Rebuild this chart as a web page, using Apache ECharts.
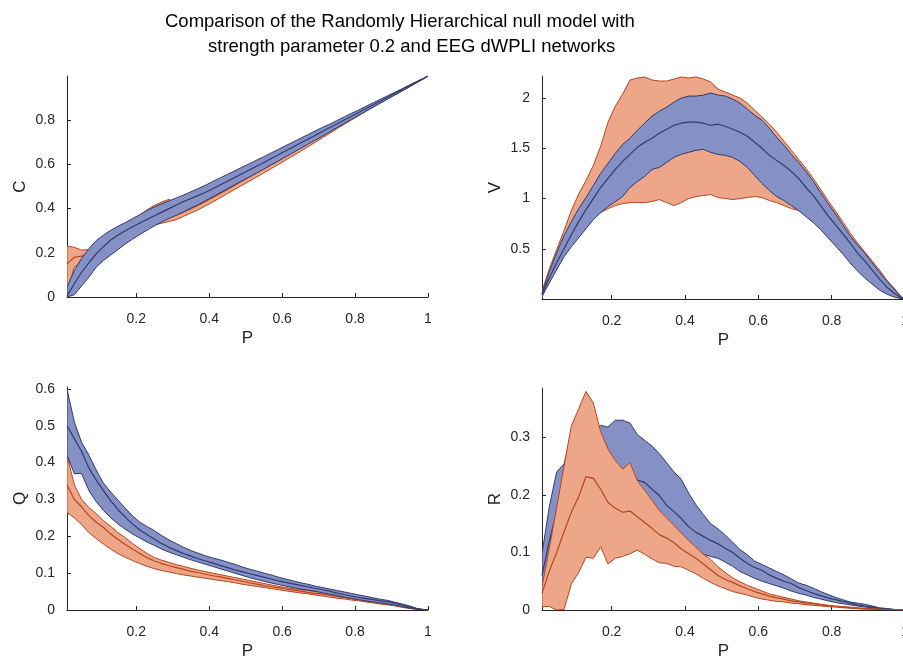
<!DOCTYPE html>
<html>
<head>
<meta charset="utf-8">
<script src="https://cdn.jsdelivr.net/npm/echarts@6/dist/echarts.min.js"></script>
<style>
  html, body { margin: 0; padding: 0; background: #fff; }
  #main { width: 903px; height: 656px; }
</style>
</head>
<body>
<div id="main"></div>
<script>
// density grid (P)
var xs = [0.01,0.03,0.05,0.07,0.09,0.11,0.13,0.15,0.17,0.19,0.21,0.23,0.25,0.27,0.29,0.31,0.33,0.35,0.37,0.39,
  0.41,0.43,0.45,0.47,0.49,0.51,0.53,0.55,0.57,0.59,0.61,0.63,0.65,0.67,0.69,0.71,0.73,0.75,0.77,0.79,
  0.81,0.83,0.85,0.87,0.89,0.91,0.93,0.95,0.97,0.99,1.0];

// C - clustering
var cNullHi = [.045,.12,.175,.218,.255,.28,.302,.32,.337,.355,.373,.392,.408,.422,.435,.448,.462,.476,.491,.506,
  .523,.539,.555,.571,.587,.603,.619,.635,.652,.668,.685,.701,.718,.734,.751,.767,.782,.798,.815,.831,
  .846,.863,.879,.895,.911,.927,.943,.96,.976,.991,1];
var cNullMid = [.005,.06,.112,.155,.195,.228,.258,.28,.3,.318,.335,.352,.368,.384,.4,.416,.432,.446,.46,.474,
  .49,.507,.524,.541,.558,.575,.592,.609,.627,.644,.662,.679,.697,.714,.731,.749,.766,.783,.801,.818,
  .835,.853,.87,.887,.905,.922,.939,.957,.974,.991,1];
var cNullLo = [0,.01,.05,.09,.135,.165,.19,.215,.24,.262,.283,.303,.322,.34,.356,.37,.386,.402,.418,.436,
  .454,.472,.49,.508,.526,.543,.561,.579,.598,.616,.635,.653,.672,.691,.709,.728,.747,.766,.785,.804,
  .822,.841,.86,.878,.897,.915,.933,.952,.971,.99,1];
var cEegHi = [.23,.225,.212,.215,.24,.262,.285,.305,.325,.345,.37,.395,.415,.43,.442,.416,.432,.446,.46,.474,
  .49,.507,.524,.541,.558,.575,.592,.609,.627,.644,.662,.679,.697,.714,.731,.749,.766,.783,.801,.818,
  .835,.853,.87,.887,.905,.922,.939,.957,.974,.991,1];
var cEegMid = [.15,.18,.185,.195,.212,.235,.258,.28,.3,.318,.336,.348,.355,.36,.365,.37,.385,.4,.415,.432,
  .45,.468,.487,.506,.525,.543,.562,.58,.599,.618,.637,.656,.675,.694,.713,.732,.751,.77,.789,.808,
  .826,.845,.864,.882,.9,.918,.936,.954,.972,.99,1];
var cEegLo = [.02,.135,.155,.17,.185,.205,.228,.25,.27,.29,.303,.316,.326,.334,.342,.35,.365,.38,.395,.412,
  .43,.449,.468,.487,.506,.524,.543,.562,.581,.6,.62,.639,.659,.679,.699,.72,.74,.761,.781,.801,
  .82,.84,.859,.878,.897,.915,.934,.952,.971,.99,1];

// V - variance
var vNullHi = [.06,.27,.46,.63,.77,.9,1.01,1.13,1.25,1.35,1.45,1.54,1.6,1.68,1.75,1.82,1.87,1.91,1.96,2.0,
  2.02,2.02,2.03,2.05,2.03,2.02,1.99,1.95,1.89,1.83,1.78,1.7,1.61,1.53,1.44,1.36,1.27,1.17,1.06,.95,
  .85,.74,.63,.54,.46,.36,.27,.18,.1,.02,0];
var vNullMid = [.05,.21,.36,.5,.64,.77,.89,1.0,1.11,1.2,1.29,1.37,1.44,1.51,1.56,1.6,1.65,1.69,1.73,1.75,
  1.76,1.76,1.75,1.73,1.74,1.72,1.69,1.66,1.62,1.56,1.5,1.43,1.38,1.33,1.27,1.2,1.11,1.03,.93,.83,
  .74,.65,.56,.46,.38,.29,.2,.12,.06,.01,0];
var vNullLo = [.03,.16,.29,.42,.52,.61,.7,.79,.86,.92,.97,1.02,1.11,1.17,1.22,1.29,1.31,1.36,1.41,1.44,
  1.46,1.48,1.49,1.46,1.44,1.43,1.41,1.37,1.31,1.23,1.15,1.08,1.02,.98,.93,.88,.82,.76,.69,.61,
  .53,.45,.36,.28,.21,.15,.09,.05,.02,.003,0];
var vEegHi = [.08,.3,.49,.68,.88,1.045,1.18,1.33,1.52,1.76,1.92,2.04,2.18,2.2,2.21,2.18,2.17,2.17,2.19,2.21,
  2.2,2.21,2.19,2.16,2.09,2.06,2.03,2.0,1.95,1.88,1.81,1.74,1.66,1.57,1.48,1.39,1.3,1.2,1.09,.98,
  .88,.77,.66,.56,.47,.38,.29,.19,.11,.02,0];
var vEegMid = [.05,.23,.4,.56,.72,.86,.98,1.1,1.22,1.33,1.42,1.5,1.57,1.6,1.62,1.62,1.61,1.6,1.6,1.62,
  1.63,1.64,1.63,1.62,1.6,1.58,1.56,1.53,1.5,1.46,1.42,1.37,1.32,1.26,1.2,1.14,1.07,1.0,.91,.82,
  .73,.64,.55,.45,.36,.28,.19,.12,.06,.01,0];
var vEegLo = [.02,.17,.31,.44,.55,.66,.75,.81,.86,.9,.93,.95,.96,.96,.96,.97,.99,.96,.93,.96,
  1.0,1.02,1.03,1.04,1.01,1.0,.99,1.0,1.01,1.02,1.01,.98,.96,.93,.9,.88,.84,.78,.71,.63,
  .55,.47,.38,.3,.23,.16,.1,.055,.025,.005,0];

// Q - modularity
var qNullHi = [.6,.51,.455,.42,.38,.344,.32,.298,.276,.255,.238,.226,.215,.202,.19,.18,.17,.161,.154,.147,
  .141,.136,.13,.124,.117,.111,.106,.1,.095,.089,.084,.079,.074,.07,.065,.061,.057,.053,.049,.045,
  .041,.037,.033,.029,.026,.021,.016,.011,.004,0,0];
var qNullMid = [.5,.465,.43,.385,.353,.324,.296,.272,.252,.233,.217,.204,.192,.18,.17,.161,.153,.146,.139,.133,
  .127,.121,.115,.109,.104,.099,.094,.089,.084,.079,.075,.071,.067,.063,.059,.055,.051,.046,.042,.038,
  .034,.031,.028,.025,.022,.018,.013,.008,.003,0,0];
var qNullLo = [.42,.37,.37,.324,.294,.27,.25,.233,.219,.206,.195,.184,.175,.165,.157,.15,.143,.136,.13,.124,
  .118,.112,.106,.1,.094,.088,.083,.078,.073,.069,.065,.061,.057,.054,.051,.047,.043,.039,.035,.032,
  .028,.025,.022,.019,.016,.013,.009,.005,.002,0,0];
var qEegHi = [.42,.34,.3,.278,.262,.242,.227,.21,.196,.18,.166,.153,.142,.135,.129,.123,.118,.113,.108,.104,
  .1,.096,.092,.088,.084,.08,.076,.072,.068,.064,.061,.058,.055,.053,.05,.047,.044,.041,.038,.035,
  .032,.029,.026,.023,.02,.016,.012,.008,.004,.001,0];
var qEegMid = [.34,.3,.28,.256,.238,.224,.206,.191,.178,.165,.153,.142,.133,.126,.12,.115,.11,.105,.101,.097,
  .093,.09,.086,.082,.078,.074,.07,.066,.063,.06,.057,.054,.051,.048,.045,.043,.04,.037,.034,.031,
  .028,.025,.022,.019,.016,.013,.01,.006,.003,.001,0];
var qEegLo = [.265,.25,.232,.21,.194,.179,.165,.153,.143,.134,.126,.118,.112,.107,.103,.099,.095,.092,.089,.086,
  .083,.08,.077,.074,.07,.067,.064,.061,.058,.055,.052,.049,.046,.044,.041,.038,.035,.032,.03,.027,
  .025,.022,.019,.016,.014,.011,.007,.004,.002,0,0];

// R - rich club
var rNullHi = [.098,.18,.24,.254,.305,.31,.315,.318,.321,.318,.33,.33,.325,.305,.295,.285,.272,.256,.24,.227,
  .203,.183,.166,.15,.141,.13,.118,.105,.096,.085,.079,.073,.067,.061,.054,.047,.043,.038,.032,.027,
  .022,.018,.014,.012,.01,.007,.004,.0025,.001,.0002,0];
var rNullMid = [.06,.12,.17,.2,.23,.25,.26,.26,.26,.255,.25,.243,.23,.226,.222,.21,.199,.182,.171,.159,
  .145,.135,.128,.121,.115,.107,.1,.09,.081,.074,.069,.061,.055,.05,.046,.039,.034,.029,.025,.021,
  .018,.015,.012,.009,.007,.005,.003,.002,.0008,.0002,0];
var rNullLo = [.03,.07,.11,.14,.17,.19,.2,.21,.21,.21,.205,.2,.195,.185,.175,.165,.155,.145,.135,.125,
  .115,.105,.097,.093,.09,.083,.076,.067,.061,.055,.05,.046,.042,.038,.033,.029,.026,.022,.019,.016,
  .013,.011,.009,.007,.005,.004,.002,.0015,.0005,.0001,0];
var rEegHi = [.04,.108,.178,.25,.32,.35,.38,.36,.31,.28,.26,.245,.256,.225,.208,.191,.173,.16,.147,.134,
  .121,.109,.097,.088,.075,.065,.056,.049,.043,.038,.033,.028,.025,.022,.019,.016,.014,.012,.01,.008,
  .007,.006,.005,.004,.003,.0025,.0015,.001,.0005,.0002,0];
var rEegMid = [.029,.068,.1,.136,.17,.197,.232,.229,.21,.187,.177,.17,.172,.162,.152,.142,.131,.125,.117,.106,
  .098,.09,.08,.07,.06,.053,.048,.042,.037,.032,.028,.024,.021,.019,.016,.014,.012,.011,.009,.008,
  .0065,.0055,.004,.003,.0025,.002,.0012,.0008,.0004,.0001,0];
var rEegLo = [.006,.006,0,.001,.045,.065,.092,.09,.11,.08,.09,.093,.098,.104,.097,.089,.082,.081,.076,.075,
  .069,.063,.055,.048,.042,.037,.032,.029,.026,.022,.019,.017,.015,.014,.012,.011,.009,.008,.007,.006,
  .005,.004,.003,.002,.0015,.001,.0008,.0005,.0003,.0001,0];

var xTicks = [0.2, 0.4, 0.6, 0.8, 1];

var FONT = '"Liberation Sans", Arial, Helvetica, sans-serif';
var AXC = '#262626';
var EEG_FILL = '#EEA689', EEG_EDGE = '#B5461C';
var NULL_FILL = '#8591C5', NULL_EDGE = '#2F3A6E';

var myChart = echarts.init(document.getElementById('main'));

// shaded band between hi and lo, outlined like a matlab fill
function band(idx, hi, lo, fill, edge, z) {
  return {
    type: 'custom',
    xAxisIndex: idx,
    yAxisIndex: idx,
    z: z,
    silent: true,
    clip: true,
    data: [[0.5, 0]],
    renderItem: function (params, api) {
      var pts = [];
      for (var i = 0; i < xs.length; i++) pts.push(api.coord([xs[i], hi[i]]));
      for (var j = xs.length - 1; j >= 0; j--) pts.push(api.coord([xs[j], lo[j]]));
      return {
        type: 'polygon',
        shape: { points: pts },
        style: { fill: fill, stroke: edge, lineWidth: 1 }
      };
    }
  };
}

function meanLine(idx, ys, edge, z) {
  return {
    type: 'line',
    xAxisIndex: idx,
    yAxisIndex: idx,
    z: z,
    silent: true,
    showSymbol: false,
    data: xs.map(function (x, i) { return [x, ys[i]]; }),
    lineStyle: { color: edge, width: 1.2 }
  };
}

function xAx(idx) {
  return {
    type: 'value', gridIndex: idx, min: 0.01, max: 1,
    name: 'P', nameLocation: 'middle', nameGap: 33,
    nameTextStyle: { fontFamily: FONT, fontSize: 17, color: AXC },
    axisLine: { lineStyle: { color: AXC, width: 1 } },
    axisTick: { inside: true, length: 4, customValues: xTicks, lineStyle: { color: AXC } },
    axisLabel: {
      customValues: xTicks, margin: 15, fontFamily: FONT, fontSize: 14, color: AXC,
      formatter: function (v) { return String(+v.toFixed(2)); }
    },
    splitLine: { show: false }
  };
}

function yAx(idx, name, max, ticks) {
  return {
    type: 'value', gridIndex: idx, min: 0, max: max,
    name: name, nameLocation: 'middle', nameGap: 38, nameRotate: 90,
    nameTextStyle: { fontFamily: FONT, fontSize: 17, color: AXC },
    axisLine: { show: true, lineStyle: { color: AXC, width: 1 } },
    axisTick: { show: true, inside: true, length: 4, customValues: ticks, lineStyle: { color: AXC } },
    axisLabel: {
      customValues: ticks, margin: 12, fontFamily: FONT, fontSize: 14, color: AXC,
      formatter: function (v) { return String(+v.toFixed(2)); }
    },
    splitLine: { show: false }
  };
}

var option = {
  animation: false,
  backgroundColor: '#fff',
  title: [
    { text: 'Comparison of the Randomly Hierarchical null model with', left: 160, top: 7,
      textStyle: { fontFamily: FONT, fontSize: 18.5, fontWeight: 'normal', color: '#000' } },
    { text: 'strength parameter 0.2 and EEG dWPLI networks', left: 203, top: 32,
      textStyle: { fontFamily: FONT, fontSize: 18.5, fontWeight: 'normal', color: '#000' } }
  ],
  grid: [
    { left: 67, width: 361, top: 76, height: 221, outerBoundsMode: 'none' },
    { left: 542, width: 363, top: 76, height: 223, outerBoundsMode: 'none' },
    { left: 67, width: 361, top: 387, height: 223, outerBoundsMode: 'none' },
    { left: 542, width: 363, top: 388, height: 222, outerBoundsMode: 'none' }
  ],
  xAxis: [xAx(0), xAx(1), xAx(2), xAx(3)],
  yAxis: [
    yAx(0, 'C', 1, [0, 0.2, 0.4, 0.6, 0.8]),
    yAx(1, 'V', 2.22, [0.5, 1, 1.5, 2]),
    yAx(2, 'Q', 0.605, [0, 0.1, 0.2, 0.3, 0.4, 0.5, 0.6]),
    yAx(3, 'R', 0.386, [0, 0.1, 0.2, 0.3])
  ],
  series: [
    // C: null model drawn over EEG
    band(0, cEegHi, cEegLo, EEG_FILL, EEG_EDGE, 2), meanLine(0, cEegMid, EEG_EDGE, 3),
    band(0, cNullHi, cNullLo, NULL_FILL, NULL_EDGE, 4), meanLine(0, cNullMid, NULL_EDGE, 5),
    // V
    band(1, vEegHi, vEegLo, EEG_FILL, EEG_EDGE, 2), meanLine(1, vEegMid, EEG_EDGE, 3),
    band(1, vNullHi, vNullLo, NULL_FILL, NULL_EDGE, 4), meanLine(1, vNullMid, NULL_EDGE, 5),
    // Q
    band(2, qEegHi, qEegLo, EEG_FILL, EEG_EDGE, 2), meanLine(2, qEegMid, EEG_EDGE, 3),
    band(2, qNullHi, qNullLo, NULL_FILL, NULL_EDGE, 4), meanLine(2, qNullMid, NULL_EDGE, 5),
    // R: EEG drawn over null model
    band(3, rNullHi, rNullLo, NULL_FILL, NULL_EDGE, 2), meanLine(3, rNullMid, NULL_EDGE, 3),
    band(3, rEegHi, rEegLo, EEG_FILL, EEG_EDGE, 4), meanLine(3, rEegMid, EEG_EDGE, 5)
  ]
};

myChart.setOption(option);
</script>
</body>
</html>
